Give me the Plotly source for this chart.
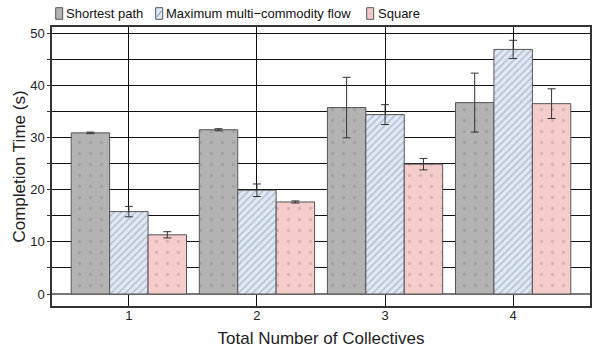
import plotly.graph_objects as go

categories = [1, 2, 3, 4]
series_names = ["Shortest path", "Maximum multi\u2212commodity flow", "Square"]
shortest = [30.9, 31.5, 35.75, 36.7]
shortest_err = [0.15, 0.2, 5.8, 5.65]
mcf = [15.8, 19.9, 34.4, 46.9]
mcf_err = [1.0, 1.2, 1.9, 1.75]
square = [11.35, 17.65, 24.9, 36.5]
square_err = [0.6, 0.2, 1.1, 2.85]

values = [shortest, mcf, square]
errors = [shortest_err, mcf_err, square_err]
fills = ["#b3b3b3", "#dde8f8", "#f5cccc"]
pattern_shapes = [".", "/", "."]
pattern_fg = ["#8f8f8f", "#8a8a8a", "#c09898"]
pattern_size = [11, 5, 11]
pattern_sol = [0.08, 0.28, 0.08]

W, H = 595, 348
ML, MR, MT, MB = 52, 5, 27, 42
PW, PH = W - ML - MR, H - MT - MB


def px_x(p):
    return (p - ML) / PW


def px_y(p):
    return (H - MB - p) / PH


fig = go.Figure()
for name, v, e, fc, ps, pf, pz, sol in zip(series_names, values, errors, fills,
                                          pattern_shapes, pattern_fg, pattern_size, pattern_sol):
    fig.add_trace(go.Bar(
        x=categories, y=v, name=name, showlegend=False,
        marker=dict(color=fc, line=dict(color="#555555", width=1),
                    pattern=dict(shape=ps, fgcolor=pf, bgcolor=fc, size=pz, solidity=sol)),
        error_y=dict(type="data", array=e, visible=True, color="#333333", thickness=1, width=4),
    ))

# legend drawn as swatches + text above the panel
legend_icon_left = [55.7, 155.7, 366.7]
legend_text_left = [64, 164, 376]
icon_w, icon_top, icon_bot, text_mid = 7, 7.7, 19.3, 13.5
for i, (name, fc) in enumerate(zip(series_names, fills)):
    x0 = legend_icon_left[i]
    fig.add_shape(type="rect", xref="paper", yref="paper",
                  x0=px_x(x0), x1=px_x(x0 + icon_w), y0=px_y(icon_bot), y1=px_y(icon_top),
                  fillcolor=fc, line=dict(color="#555555", width=1))
    if pattern_shapes[i] == "/":
        fig.add_shape(type="line", xref="paper", yref="paper",
                      x0=px_x(x0 + 1), x1=px_x(x0 + icon_w - 1),
                      y0=px_y(icon_bot - 2), y1=px_y(icon_top + 3),
                      line=dict(color="#8a8a8a", width=1))
    elif i == 2:
        fig.add_shape(type="rect", xref="paper", yref="paper",
                      x0=px_x(x0 + 3), x1=px_x(x0 + 4), y0=px_y(14.5), y1=px_y(13.5),
                      fillcolor="#b08888", line=dict(width=0))
    fig.add_annotation(text=name, xref="paper", yref="paper",
                       x=px_x(legend_text_left[i]), y=px_y(text_mid),
                       xanchor="left", yanchor="middle", showarrow=False,
                       font=dict(size=13, color="#111111"))

fig.update_layout(
    width=W, height=H,
    margin=dict(l=ML, r=MR, t=MT, b=MB, autoexpand=False),
    barmode="group", bargap=0.1, bargroupgap=0,
    plot_bgcolor="white", paper_bgcolor="white", showlegend=False,
    font=dict(family="Liberation Sans, Arial, sans-serif", color="#222222", size=13),
    xaxis=dict(range=[0.4, 4.6], tickvals=categories, ticktext=[str(c) for c in categories],
               showgrid=True, gridcolor="#111111", gridwidth=1, automargin=False,
               showline=True, linecolor="#333333", linewidth=1.5, mirror=True,
               ticks="", zeroline=False, ticklabelstandoff=-3,
               title=dict(text="Total Number of Collectives", font=dict(size=17, color="#222222"), standoff=10),
               tickfont=dict(size=13, color="#222222")),
    yaxis=dict(range=[-2.3, 51.2], tickvals=[0, 10, 20, 30, 40, 50], automargin=False,
               showgrid=True, gridcolor="#111111", gridwidth=1,
               minor=dict(tickvals=[5, 15, 25, 35, 45], showgrid=True, gridcolor="#111111",
                          ticks="outside", ticklen=3, tickcolor="#333333"),
               ticks="outside", ticklen=3, tickcolor="#333333",
               showline=True, linecolor="#333333", linewidth=1.5, mirror=True,
               zeroline=True, zerolinecolor="#777777", zerolinewidth=1.5,
               title=dict(text="Completion Time (s)", font=dict(size=17, color="#222222"), standoff=0),
               tickfont=dict(size=13, color="#222222")),
)

fig.write_html("out.html", config={"displayModeBar": False},
               post_script="document.body.style.margin='0';")
